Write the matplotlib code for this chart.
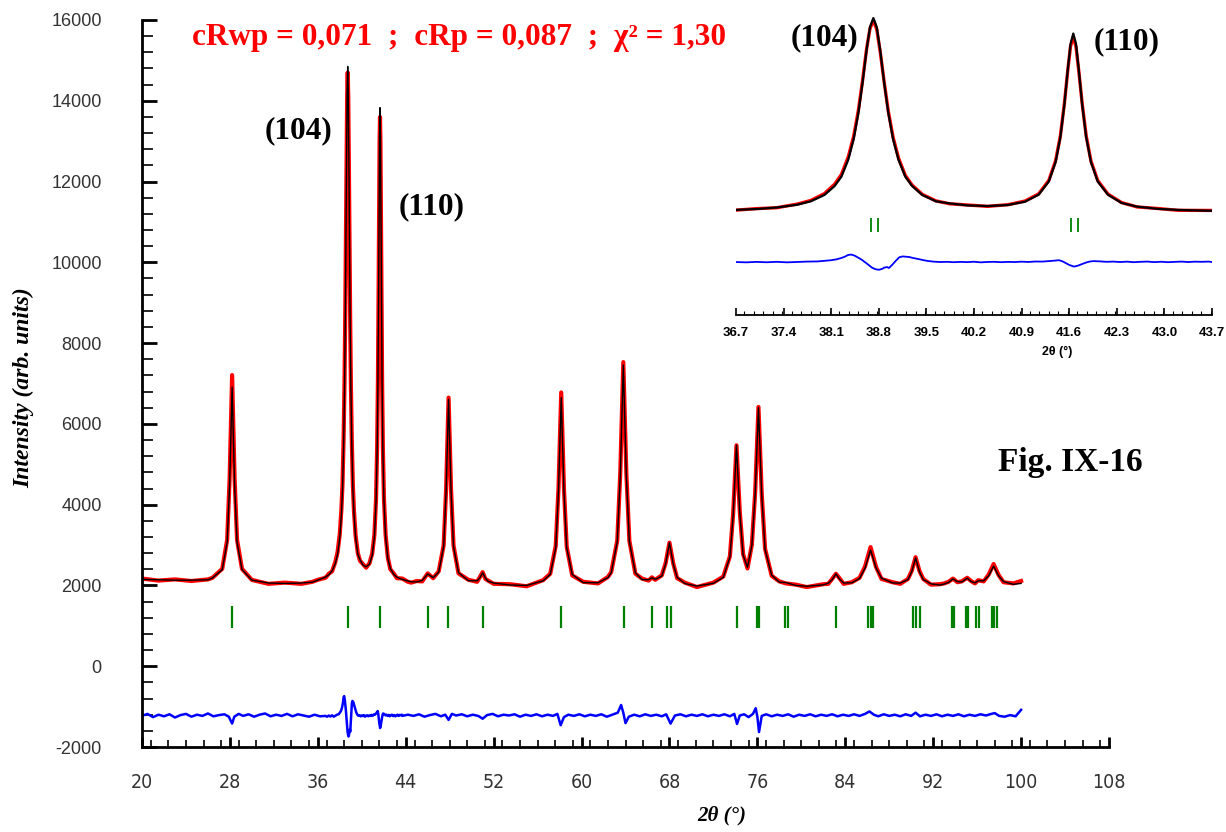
import numpy as np
import matplotlib
matplotlib.use("Agg")
import matplotlib.pyplot as plt
from matplotlib import font_manager
from matplotlib.ticker import MultipleLocator, FixedLocator

plt.rcParams["axes.unicode_minus"] = False

# ---------------- data ----------------
two_theta = [
    20.0, 21.5, 23.0, 24.5, 26.0, 26.4, 27.3, 27.75, 27.975, 28.2, 28.425, 28.65, 29.1, 30.0,
    31.5, 33.0, 34.5, 35.5, 36.0,
    36.7, 37.0, 37.3, 37.6, 37.8, 38.0, 38.15, 38.25, 38.35, 38.43, 38.5, 38.56, 38.62, 38.67,
    38.72, 38.77, 38.82, 38.88, 38.94, 39.01, 39.09, 39.19, 39.29, 39.44, 39.64, 39.84, 40.1,
    40.4, 40.7, 40.95, 41.15, 41.3, 41.4, 41.47, 41.53, 41.58, 41.62, 41.66, 41.7, 41.74,
    41.79, 41.85, 41.92, 42.02, 42.17, 42.37, 42.6, 42.9, 43.2, 43.7, 44.2,
    44.5, 45.0, 45.5, 46.0, 46.5, 47.0, 47.45, 47.675, 47.9, 48.125, 48.35, 48.8,
    49.7, 50.5, 50.75, 51.0, 51.25, 51.5, 52.0, 53.5, 55.0, 56.5, 57.15, 57.65, 57.9, 58.15,
    58.4, 58.65, 59.15, 60.15, 61.5, 62.4, 62.7, 63.25, 63.525, 63.8, 64.075, 64.35, 64.9,
    65.5, 66.1, 66.4, 66.7, 67.3, 67.65, 68.0, 68.35, 68.7, 69.4, 70.5, 72.0, 72.9, 73.5,
    73.8, 74.1, 74.4, 74.7, 75.1, 75.5, 75.8, 76.1, 76.4, 76.7, 77.3, 78.0, 78.6, 79.5, 80.5,
    82.0, 82.45, 82.8, 83.15, 83.5, 83.85, 84.6, 85.3, 85.8, 86.3, 86.8, 87.3, 88.3, 89.0,
    89.7, 90.05, 90.4, 90.75, 91.1, 91.8, 92.6, 93.0, 93.4, 93.8, 94.2, 94.6, 95.1, 95.45,
    95.8, 96.1, 96.6, 97.05, 97.5, 97.95, 98.4, 99.3, 100.0]

y_calc = [
    2150, 2140, 2130, 2130, 2140, 2182, 2393, 3070, 4510, 6910, 4510, 3070, 2393, 2132,
    2060, 2050, 2060, 2080, 2130,
    2207, 2265, 2364, 2547, 2773, 3189, 3778, 4392, 5506, 6863, 8591, 10549, 12738, 14248,
    14850, 14248, 12738, 10549, 8591, 6863, 5506, 4392, 3778, 3189, 2773, 2636, 2504,
    2461, 2529, 2745, 3206, 4075, 5355, 6990, 9182, 11490, 13140, 13830, 13140, 11490,
    9182, 6990, 5355, 4075, 3206, 2664, 2420, 2277, 2205, 2147, 2110,
    2090, 2087, 2125, 2283, 2196, 2328, 2962, 4330, 6610, 4330, 2962, 2318,
    2118, 2116, 2190, 2315, 2182, 2102, 2060, 2010, 2000, 2114, 2274, 2930, 4325, 6650,
    4325, 2930, 2274, 2070, 2067, 2193, 2313, 3084, 4725, 7460, 4725, 3084, 2313,
    2145, 2142, 2189, 2152, 2230, 2530, 3055, 2520, 2200, 2048, 1985, 2053, 2200, 2702,
    3743, 5477, 3803, 2750, 2450, 2990, 4264, 6400, 4220, 2890, 2255, 2080, 2072, 2000, 1980,
    2014, 2056, 2142, 2285, 2150, 2060, 2065, 2171, 2430, 2880, 2430, 2180, 2062, 2059,
    2144, 2342, 2680, 2342, 2144, 2040, 2010, 2035, 2075, 2161, 2095, 2086, 2180, 2095,
    2064, 2115, 2116, 2240, 2480, 2240, 2096, 2028, 2050]

y_obs = [
    2170, 2120, 2150, 2110, 2150, 2187, 2411, 3130, 4660, 7210, 4660, 3130, 2411, 2137,
    2040, 2070, 2040, 2090, 2140,
    2190, 2290, 2350, 2590, 2830, 3280, 3900, 4540, 5690, 7050, 8780, 10700, 12800, 14150,
    14700, 14100, 12650, 10600, 8700, 7000, 5620, 4480, 3840, 3230, 2800, 2610, 2530,
    2440, 2550, 2790, 3260, 4150, 5450, 7080, 9250, 11450, 13000, 13600, 12950, 11400,
    9250, 7080, 5430, 4140, 3250, 2690, 2400, 2300, 2180, 2170, 2090,
    2070, 2110, 2100, 2300, 2180, 2350, 2990, 4370, 6650, 4370, 2990, 2300,
    2140, 2090, 2210, 2330, 2160, 2120, 2040, 2030, 1980, 2130, 2290, 2980, 4390, 6780,
    4390, 2960, 2250, 2090, 2050, 2210, 2330, 3110, 4790, 7530, 4790, 3110, 2290,
    2170, 2120, 2200, 2140, 2250, 2550, 3060, 2540, 2180, 2070, 1960, 2070, 2220, 2720,
    3790, 5470, 3830, 2780, 2420, 3010, 4300, 6420, 4260, 2910, 2240, 2100, 2050, 2020, 1960,
    2030, 2040, 2160, 2290, 2170, 2040, 2080, 2190, 2470, 2950, 2460, 2160, 2080, 2040,
    2160, 2360, 2700, 2360, 2160, 2020, 2030, 2050, 2090, 2170, 2080, 2100, 2190, 2110,
    2050, 2130, 2100, 2270, 2530, 2260, 2080, 2050, 2110]

diff_x = [
    20.0, 20.5, 21.0, 21.5, 22.0, 22.5, 23.0, 23.5, 24.0, 24.5, 25.0, 25.5, 26.0, 26.5, 27.0,
    27.5, 27.9, 28.2, 28.4, 28.8, 29.2, 29.7, 30.2, 30.7, 31.2, 31.7, 32.2, 32.7, 33.2, 33.7,
    34.2, 34.7, 35.2, 35.7, 36.2,
    36.7, 36.85, 37.0, 37.15, 37.3, 37.45, 37.6, 37.75, 37.9, 38.0, 38.1, 38.18, 38.25, 38.3,
    38.35, 38.4, 38.45, 38.5, 38.55, 38.6, 38.65, 38.7, 38.75, 38.8, 38.85, 38.88, 38.92, 38.95,
    39.0, 39.05, 39.1, 39.15, 39.2, 39.25, 39.3, 39.38, 39.45, 39.52, 39.6, 39.7, 39.8, 39.9,
    40.0, 40.1, 40.2, 40.3, 40.4, 40.5, 40.6, 40.7, 40.8, 40.9, 41.0, 41.1, 41.2, 41.3, 41.4,
    41.45, 41.5, 41.55, 41.6, 41.67, 41.72, 41.78, 41.85, 41.9, 41.95, 42.05, 42.15, 42.25,
    42.35, 42.45, 42.55, 42.65, 42.75, 42.85, 42.95, 43.05, 43.15, 43.25, 43.35, 43.45, 43.55,
    43.65, 43.7,
    44.2, 44.7, 45.2, 45.7, 46.2, 46.7, 47.2, 47.6, 47.9, 48.2, 48.6, 49.1, 49.6, 50.1, 50.6,
    51.0, 51.4, 51.9, 52.4, 52.9, 53.4, 53.9, 54.4, 54.9, 55.4, 55.9, 56.4, 56.9, 57.4, 57.8,
    58.1, 58.4, 58.8, 59.3, 59.8, 60.3, 60.8, 61.3, 61.8, 62.3, 62.8, 63.3, 63.6, 63.8, 64.0,
    64.3, 64.8, 65.3, 65.8, 66.3, 66.8, 67.3, 67.7, 68.1, 68.5, 69.0, 69.5, 70.0, 70.5, 71.0,
    71.5, 72.0, 72.5, 73.0, 73.5, 73.9, 74.15, 74.4, 74.8, 75.2, 75.6, 75.85, 76.0, 76.15,
    76.4, 76.8, 77.3, 77.8, 78.3, 78.8, 79.3, 79.8, 80.3, 80.8, 81.3, 81.8, 82.3, 82.8, 83.3,
    83.8, 84.3, 84.8, 85.3, 85.8, 86.2, 86.6, 87.0, 87.5, 88.0, 88.5, 89.0, 89.5, 90.0, 90.4,
    90.8, 91.3, 91.8, 92.3, 92.8, 93.3, 93.8, 94.3, 94.8, 95.3, 95.8, 96.3, 96.8, 97.3, 97.6,
    98.0, 98.5, 99.0, 99.5, 100.0]

diff_y = [
    -1230, -1180, -1260, -1200, -1240, -1190, -1270, -1210, -1180, -1250, -1200, -1230, -1170, -1240, -1210,
    -1190, -1250, -1420, -1250, -1180, -1230, -1190, -1250, -1200, -1170, -1240, -1200, -1230, -1180, -1240,
    -1190, -1220, -1250, -1200, -1240,
    -1230, -1250, -1220, -1245, -1215, -1250, -1225, -1200, -1190, -1150, -1110, -1050, -960, -880,
    -760, -740, -820, -950, -1080, -1250, -1420, -1600, -1700, -1740, -1680, -1600, -1560, -1620,
    -1400, -1150, -920, -860, -880, -900, -960, -1030, -1100, -1160, -1200, -1230, -1215, -1240,
    -1220, -1235, -1210, -1250, -1225, -1215, -1240, -1220, -1230, -1205, -1225, -1195, -1200, -1170, -1130,
    -1110, -1180, -1300, -1420, -1530, -1480, -1380, -1260, -1200, -1170, -1185, -1215, -1200,
    -1230, -1205, -1240, -1215, -1200, -1235, -1210, -1240, -1220, -1200, -1230, -1205, -1215,
    -1200, -1230,
    -1200, -1230, -1190, -1250, -1210, -1180, -1240, -1200, -1330, -1180, -1220, -1190, -1240, -1200, -1230,
    -1300, -1210, -1180, -1240, -1200, -1220, -1190, -1250, -1200, -1230, -1190, -1240, -1200, -1230, -1180,
    -1460, -1260, -1200, -1230, -1190, -1240, -1200, -1230, -1190, -1250, -1200, -1150, -960, -1150, -1410,
    -1250, -1200, -1240, -1190, -1230, -1200, -1240, -1190, -1420, -1220, -1190, -1240, -1200, -1230, -1190,
    -1240, -1200, -1230, -1190, -1240, -1180, -1430, -1220, -1190, -1260, -1180, -1040, -1250, -1630,
    -1230, -1190, -1240, -1200, -1230, -1190, -1250, -1200, -1230, -1190, -1240, -1200, -1230, -1190, -1240,
    -1200, -1230, -1190, -1230, -1180, -1120, -1200, -1240, -1190, -1230, -1200, -1240, -1190, -1230, -1150,
    -1240, -1200, -1230, -1190, -1240, -1200, -1230, -1190, -1240, -1200, -1230, -1190, -1220, -1180, -1160,
    -1230, -1250, -1210, -1240, -1080]

bragg_main = [28.2, 38.76, 41.7, 46.03, 47.85, 51.03, 58.15, 63.82, 66.4, 67.8, 68.1, 74.12,
              75.94, 76.18, 78.5, 78.76, 83.15, 86.03, 86.34, 86.55, 90.18, 90.48, 90.79,
              93.67, 93.91, 94.95, 95.18, 95.94, 96.18, 97.33, 97.57, 97.79]
bragg_inset = [38.69, 38.79, 41.63, 41.73]

main_xticks = [20, 28, 36, 44, 52, 60, 68, 76, 84, 92, 100, 108]
inset_xticks = [36.7, 37.4, 38.1, 38.8, 39.5, 40.2, 40.9, 41.6, 42.3, 43.0, 43.7]

title_text = "cRwp = 0,071  ;  cRp = 0,087  ;  χ² = 1,30"

# ---------------- fonts ----------------
_entries = font_manager.fontManager.ttflist
_names = {f.name for f in _entries}
if "Liberation Sans Narrow" in _names:
    xtick_font = dict(family=["Liberation Sans Narrow"], stretch="normal", size=15)
elif any(f.name == "DejaVu Sans" and f.stretch == "condensed" for f in _entries):
    xtick_font = dict(family=["DejaVu Sans"], stretch="condensed", size=14)
else:
    xtick_font = dict(family=["Liberation Sans"], stretch="normal", size=14)

# ---------------- figure ----------------
W, H = 1226, 832
fig = plt.figure(figsize=(W / 100, H / 100), dpi=100)

def fx(px):
    return px / W

def fy(py):
    return 1 - py / H

RED = "#ff0000"
GREEN = "#008000"
BLUE = "#0000ff"

ax = fig.add_axes([fx(142), fy(747), fx(1109) - fx(142), fy(20) - fy(747)])
ax.set_xlim(20, 108)
ax.set_ylim(-2000, 16000)
ax.set_facecolor("none")

ax.plot(two_theta, y_obs, color=RED, lw=3.0, solid_joinstyle="round", zorder=2)
ax.plot(two_theta, y_calc, color="black", lw=1.0, zorder=3)
ax.plot(diff_x, diff_y, color=BLUE, lw=1.8, zorder=2)
ax.vlines(bragg_main, 950, 1500, color=GREEN, lw=1.6, zorder=2)

for s in ["top", "right"]:
    ax.spines[s].set_visible(False)
for s in ["left", "bottom"]:
    ax.spines[s].set_linewidth(2.0)

ax.xaxis.set_major_locator(FixedLocator(main_xticks))
ax.xaxis.set_minor_locator(MultipleLocator(1.6))
ax.yaxis.set_major_locator(MultipleLocator(2000))
ax.yaxis.set_minor_locator(MultipleLocator(400))
ax.tick_params(axis="y", which="major", direction="in", length=11, width=2.0, pad=29,
               labelsize=13, labelcolor="#333333")
ax.tick_params(axis="y", which="minor", direction="in", length=8, width=1.2)
ax.tick_params(axis="x", which="major", direction="in", length=7, width=2.0, pad=19,
               labelcolor="#333333")
ax.tick_params(axis="x", which="minor", direction="in", length=5, width=1.2)
for lab in ax.get_yticklabels():
    lab.set_family(["Liberation Sans", "DejaVu Sans"])
for lab in ax.get_xticklabels():
    lab.set_family(xtick_font["family"])
    lab.set_stretch(xtick_font["stretch"])
    lab.set_fontsize(xtick_font["size"])

serif = ["Liberation Serif", "DejaVu Serif"]
fig.text(fx(24), fy(388), "Intensity (arb. units)", rotation=90, ha="center", va="center",
         family=serif, weight="bold", style="italic", fontsize=17)
fig.text(fx(722), fy(815), "2θ (°)", ha="center", va="center",
         family=serif, weight="bold", style="italic", fontsize=15)
fig.text(fx(459), fy(38), title_text, ha="center", va="center", color=RED,
         family=serif, weight="bold", fontsize=22.5)
fig.text(fx(299), fy(131), "(104)", ha="center", va="center",
         family=serif, weight="bold", fontsize=22.5)
fig.text(fx(432), fy(207), "(110)", ha="center", va="center",
         family=serif, weight="bold", fontsize=22.5)
fig.text(fx(1070), fy(463), "Fig. IX-16", ha="center", va="center",
         family=serif, weight="bold", fontsize=24)

# ---------------- inset ----------------
ins = fig.add_axes([fx(736), fy(315), fx(1212) - fx(736), fy(10) - fy(315)])
ins.set_xlim(36.7, 43.7)
ins.set_ylim(-4720, 15380)
ins.set_facecolor("none")
ins.plot(two_theta, y_obs, color=RED, lw=2.4, zorder=2)
ins.plot(two_theta, y_calc, color="black", lw=1.6, zorder=3)
ins.plot(diff_x, diff_y, color=BLUE, lw=1.3, zorder=2)
ins.vlines(bragg_inset, 750, 1673, color=GREEN, lw=1.3)
for s in ["top", "right", "left"]:
    ins.spines[s].set_visible(False)
ins.spines["bottom"].set_linewidth(1.3)
ins.set_yticks([])
ins.xaxis.set_major_locator(FixedLocator(inset_xticks))
ins.xaxis.set_minor_locator(MultipleLocator(0.14))
ins.set_xticklabels([f"{v:.1f}" for v in inset_xticks])
ins.tick_params(axis="x", which="major", direction="in", length=5, width=1.2, pad=9,
                labelsize=9.5)
ins.tick_params(axis="x", which="minor", direction="in", length=3, width=0.8)
for lab in ins.get_xticklabels():
    lab.set_family(["Liberation Sans", "DejaVu Sans"])
    lab.set_weight("bold")
fig.text(fx(1057), fy(352), "2θ (°)", ha="center", va="center",
         family=["Liberation Sans", "DejaVu Sans"], weight="bold", fontsize=9)
fig.text(fx(824), fy(38), "(104)", ha="center", va="center",
         family=serif, weight="bold", fontsize=22.5)
fig.text(fx(1127), fy(42), "(110)", ha="center", va="center",
         family=serif, weight="bold", fontsize=22.5)

fig.savefig("out.png", dpi=100)
